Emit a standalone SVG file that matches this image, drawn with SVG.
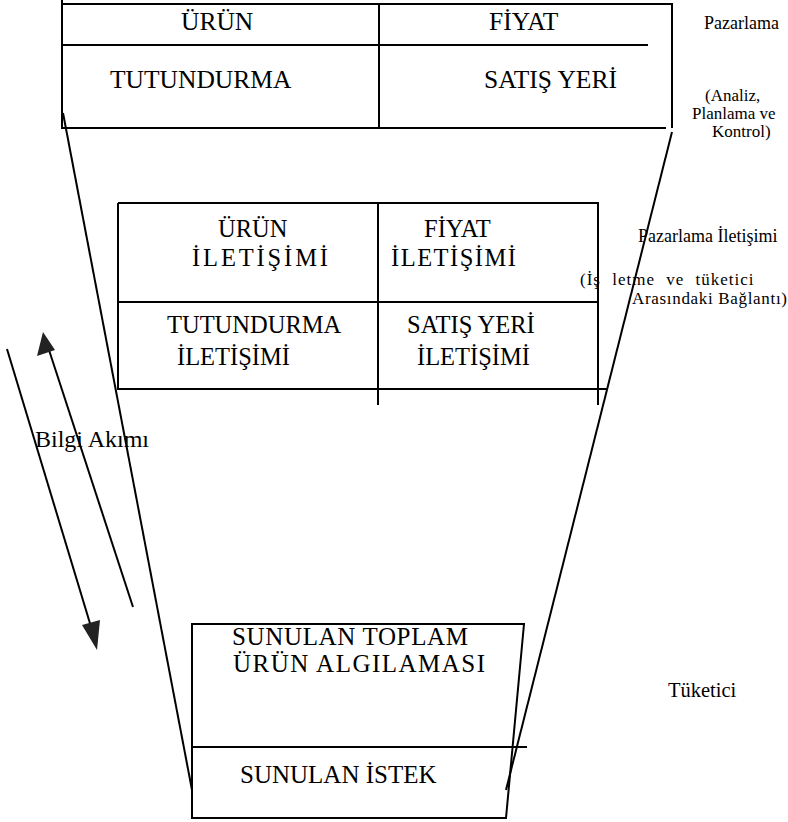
<svg xmlns="http://www.w3.org/2000/svg" width="788" height="822" viewBox="0 0 788 822">
<style>
text{font-family:'Liberation Serif','DejaVu Serif',serif;fill:#000}
.big{font-size:25.5px}
.mid{font-size:24.5px}
.bot{font-size:25px}
.sm{font-size:18px}
.lab{font-size:17px}
.ln{stroke:#000;stroke-width:2;fill:none}
.ah{fill:#222}
</style>
<rect width="788" height="822" fill="#fff"/>

<g id="pazarlama">
<path class="ln" d="M62,0 V128 H666 M62,4 H672 V128 M62,45 H648 M379,4 V128"/>
<text class="big" x="181" y="30">ÜRÜN</text>
<text class="big" x="489" y="30">FİYAT</text>
<text class="big" x="110" y="88">TUTUNDURMA</text>
<text class="big" x="484" y="88">SATIŞ YERİ</text>
</g>

<g id="pazarlama-label">
<text class="sm" x="704" y="29">Pazarlama</text>
<text class="lab" x="705" y="101">(Analiz,</text>
<text class="lab" x="692" y="119">Planlama ve</text>
<text class="lab" x="712" y="137">Kontrol)</text>
</g>

<g id="iletisim">
<path class="ln" d="M118,203 H598 V405 M118,203 V389 H608 M118,302 H598 M378,203 V405"/>
<text class="mid" x="218" y="237">ÜRÜN</text>
<text class="mid" x="192" y="266" textLength="136" lengthAdjust="spacing">İLETİŞİMİ</text>
<text class="mid" x="424" y="237">FİYAT</text>
<text class="mid" x="391" y="266" textLength="125" lengthAdjust="spacing">İLETİŞİMİ</text>
<text class="mid" x="167" y="333">TUTUNDURMA</text>
<text class="mid" x="177" y="365">İLETİŞİMİ</text>
<text class="mid" x="407" y="333">SATIŞ YERİ</text>
<text class="mid" x="417" y="365">İLETİŞİMİ</text>
</g>

<g id="iletisim-label">
<text class="sm" x="638" y="242">Pazarlama İletişimi</text>
<text class="lab" x="580" y="285" word-spacing="6" letter-spacing="1">(İş letme ve tüketici</text>
<text class="lab" x="632" y="304" textLength="155" lengthAdjust="spacing">Arasındaki Bağlantı)</text>
</g>

<g id="tuketici">
<path class="ln" d="M192,624 H524 L506,818 H192 Z M192,747 H527"/>
<text class="bot" x="232" y="645" textLength="236" lengthAdjust="spacing">SUNULAN TOPLAM</text>
<text class="bot" x="233" y="672" textLength="252" lengthAdjust="spacing">ÜRÜN ALGILAMASI</text>
<text class="bot" x="240" y="783">SUNULAN İSTEK</text>
</g>

<g id="tuketici-label">
<text font-size="20.5" x="668" y="697">Tüketici</text>
</g>

<g id="bilgi">
<text font-size="24" x="35" y="447">Bilgi Akımı</text>
</g>

<g id="connectors">
<path class="ln" d="M63,113 L192,790"/>
<path class="ln" d="M672,132 L506,790"/>
<path class="ln" d="M7,349 L92,630"/>
<polygon class="ah" points="97,650 82,625 100,620"/>
<path class="ln" d="M133,607 L49,350"/>
<polygon class="ah" points="43,332 37,356 55,350"/>
</g>
</svg>
